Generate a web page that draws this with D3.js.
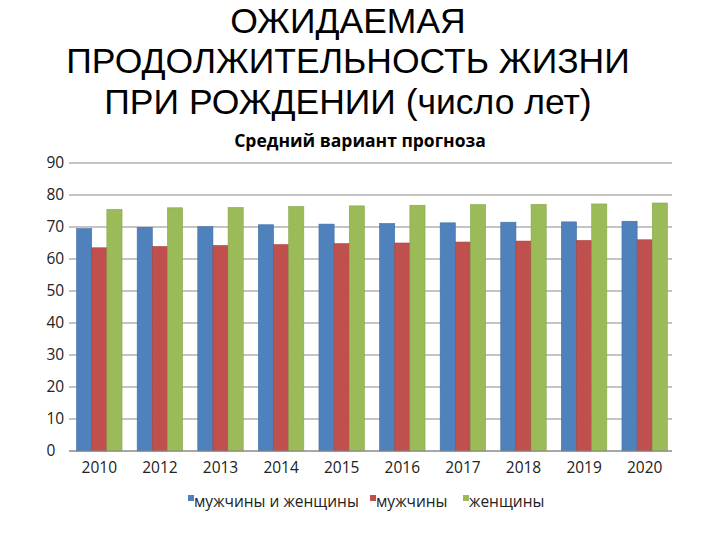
<!DOCTYPE html>
<html><head><meta charset="utf-8">
<script src="https://cdn.jsdelivr.net/npm/d3@7"></script>
<style>body{margin:0;background:#fff}svg{display:block}</style>
</head><body>
<svg id="c" width="720" height="540"></svg>
<script>
const titleLines = ["ОЖИДАЕМАЯ", "ПРОДОЛЖИТЕЛЬНОСТЬ ЖИЗНИ", "ПРИ РОЖДЕНИИ (число лет)"];
const chartTitle = "Средний вариант прогноза";
const years = ["2010","2012","2013","2014","2015","2016","2017","2018","2019","2020"];
const seriesNames = ["мужчины и женщины","мужчины","женщины"];
const both  = [69.5, 69.9, 70.1, 70.7, 70.9, 71.1, 71.3, 71.5, 71.6, 71.8];
const men   = [63.5, 63.9, 64.2, 64.5, 64.8, 65.0, 65.3, 65.6, 65.8, 66.0];
const women = [75.5, 76.0, 76.1, 76.4, 76.6, 76.8, 77.0, 77.1, 77.2, 77.5];
const yTicks = [0,10,20,30,40,50,60,70,80,90];
const colors = ["#4F81BD","#C0504D","#9BBB59"];
const strokes = ["#3f6ea5","#a8423f","#87a64a"];

const svg = d3.select("#c");
const L = 69, R = 675, T = 163, B = 451;
const FONT = "'Open Sans', 'Noto Sans', sans-serif";

const titleY = [32.5, 73, 114];
svg.append("g").selectAll("text").data(titleLines).join("text")
  .attr("x", 348).attr("y", (d,i) => titleY[i])
  .attr("text-anchor","middle")
  .attr("font-family","'Liberation Sans', Arial, sans-serif")
  .attr("font-size", 35.5).attr("fill","#000").text(d => d);

svg.append("text").attr("x", 360).attr("y", 147).attr("text-anchor","middle")
  .attr("font-family",FONT).attr("font-weight","bold")
  .attr("font-size", 17.5).attr("fill","#000").text(chartTitle);

const x = d3.scaleBand().domain(years).range([L,R]).paddingInner(0.25).paddingOuter(0.125);
const x1 = d3.scaleBand().domain(seriesNames).range([0, x.bandwidth()]);
const y = d3.scaleLinear().domain([0,90]).range([B,T]);

// gridlines
svg.append("g").selectAll("line").data(yTicks).join("line")
  .attr("x1", L).attr("x2", R-3).attr("y1", d => y(d)).attr("y2", d => y(d))
  .attr("stroke","#8a8a8a").attr("stroke-width",1.2);

const yAxis = svg.append("g").attr("transform",`translate(${L},0)`)
  .call(d3.axisLeft(y).tickValues(yTicks).tickSize(0).tickPadding(6));
yAxis.select(".domain").remove();
yAxis.selectAll("text").attr("font-family",FONT)
  .attr("font-size",15.5).attr("fill","#222")
  .attr("text-anchor","start").attr("x", 46.5 - L);

const data = years.map((yr,i) => ({yr, vals:[both[i], men[i], women[i]]}));
const g = svg.append("g").selectAll("g").data(data).join("g")
  .attr("transform", d => `translate(${x(d.yr)},0)`);
g.selectAll("rect").data(d => d.vals.map((v,k) => ({v,k}))).join("rect")
  .attr("x", d => x1(seriesNames[d.k])).attr("width", x1.bandwidth())
  .attr("y", d => y(d.v)).attr("height", d => B - y(d.v))
  .attr("fill", d => colors[d.k]).attr("stroke", d => strokes[d.k]).attr("stroke-width",0.6);

svg.append("line").attr("x1",L).attr("x2",R-3).attr("y1",B).attr("y2",B)
  .attr("stroke","#8a8a8a").attr("stroke-width",1.2);

const xAxis = svg.append("g").attr("transform",`translate(0,${B})`)
  .call(d3.axisBottom(x).tickSize(0).tickPadding(0));
xAxis.select(".domain").remove();
xAxis.selectAll("text").attr("font-family",FONT)
  .attr("font-size",15.5).attr("fill","#222")
  .attr("dy", null).attr("y", 22);

// legend
const legX = [188, 370, 463];
const leg = svg.append("g").selectAll("g").data(seriesNames).join("g")
  .attr("transform", (d,i) => `translate(${legX[i]},495)`);
leg.append("rect").attr("width",6).attr("height",6).attr("fill",(d,i)=>colors[i]);
leg.append("text").attr("x",6).attr("y",12)
  .attr("font-family",FONT).attr("font-size",15.5)
  .attr("fill","#222").text(d => d);
</script>
</body></html>
